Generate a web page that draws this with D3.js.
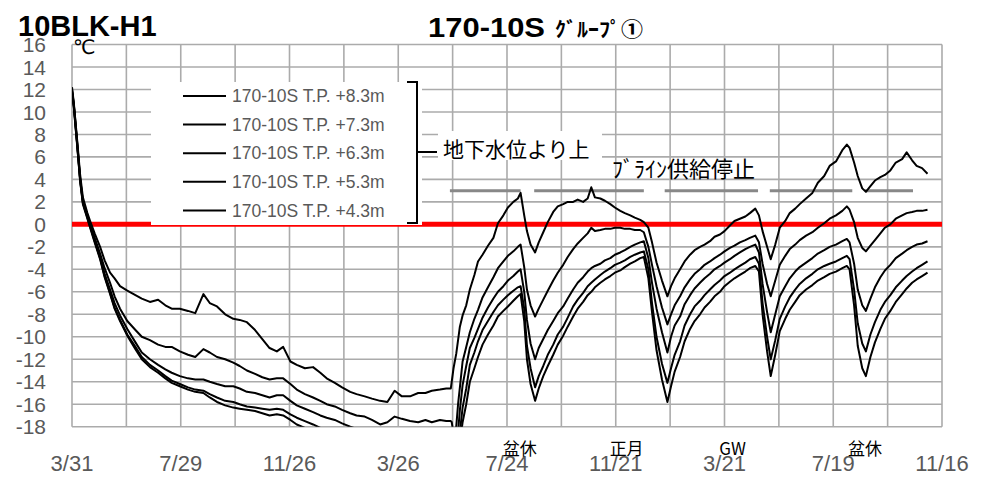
<!DOCTYPE html>
<html><head><meta charset="utf-8">
<script src="https://cdn.jsdelivr.net/npm/d3@7"></script>
<style>body{margin:0;background:#fff}</style>
</head><body><svg id="c" width="985" height="484"></svg>
<script>
// ---- data ----
const xTickDays = [0,120,240,360,480,600,720,840,960];
const xTickLabels = ["3/31","7/29","11/26","3/26","7/24","11/21","3/21","7/19","11/16"];
const yTicks = [-18,-16,-14,-12,-10,-8,-6,-4,-2,0,2,4,6,8,10,12,14,16];
const seriesNames = ["170-10S T.P. +8.3m","170-10S T.P. +7.3m","170-10S T.P. +6.3m","170-10S T.P. +5.3m","170-10S T.P. +4.3m"];
const days = [0,2,6,9,12,17,20,25,31,36,42,47,53,61,70,77,86,95,103,110,119,128,136,145,152,160,169,178,185,193,202,210,218,226,233,241,248,257,266,274,281,290,298,307,314,323,331,340,348,356,364,373,382,390,397,406,413,418,
419,421,424,426,428,431,435,439,444,448,453,459,465,470,476,481,487,492,495,499,502,506,511,515,520,525,531,536,542,547,553,558,564,569,573,577,583,588,594,599,605,610,616,621,627,631,636,640,645,651,657,661,665,671,676,682,687,693,698,704,709,715,720,726,731,737,743,748,754,758,762,767,771,776,781,787,792,798,803,810,817,823,830,836,843,850,855,858,863,867,872,876,881,886,892,897,903,909,916,921,927,932,938,944];
const s83 = [12.2,10.8,7.2,4.4,2.4,1.0,0.3,-0.8,-2.0,-3.2,-4.3,-4.8,-5.5,-5.9,-6.3,-6.6,-6.9,-6.7,-7.2,-7.5,-7.5,-7.7,-7.9,-6.2,-7.0,-7.3,-8.0,-8.4,-8.5,-8.7,-9.4,-10.2,-11.0,-11.3,-10.9,-12.2,-12.5,-12.8,-12.7,-13.2,-13.7,-14.1,-14.5,-14.9,-15.1,-15.3,-15.5,-15.7,-15.8,-14.8,-15.3,-15.3,-15.0,-15.0,-14.8,-14.7,-14.6,-14.6,
-14.0,-12.8,-11.5,-10.3,-9.1,-8.1,-7.2,-5.8,-4.5,-3.3,-2.7,-1.9,-1.2,0.1,0.8,1.5,2.0,2.3,2.8,0.8,-0.6,-1.8,-2.5,-1.6,-0.7,0.2,1.1,1.6,1.8,2.0,2.0,2.2,2.0,2.3,3.3,2.4,2.3,2.1,1.8,1.5,1.2,1.0,0.8,0.6,0.4,0.2,-0.3,-1.6,-3.4,-5.0,-6.4,-5.5,-4.8,-4.0,-3.3,-2.7,-2.3,-2.0,-1.8,-1.5,-1.1,-0.9,-0.6,-0.1,0.3,0.5,0.7,1.0,1.4,0.8,-0.6,-2.0,-3.1,-1.8,-0.3,0.3,1.0,1.4,1.8,2.3,2.8,3.7,4.3,5.2,5.6,6.6,7.1,6.8,5.5,4.3,3.2,2.9,3.4,3.9,4.2,4.4,4.8,5.5,5.8,6.4,5.7,5.2,5.0,4.5];
const s73 = [12.0,10.7,7.0,4.1,2.1,0.8,0.0,-1.2,-2.6,-3.9,-5.2,-6.4,-7.5,-8.6,-9.4,-10.0,-10.3,-10.7,-10.9,-10.9,-11.3,-11.6,-11.8,-11.1,-11.4,-11.8,-12.0,-12.3,-12.6,-13.0,-13.3,-13.6,-13.8,-13.7,-13.7,-14.2,-14.7,-15.1,-15.4,-15.7,-16.0,-16.2,-16.5,-16.8,-17.0,-17.1,-17.4,-17.8,-17.6,-17.1,-17.3,-17.5,-17.6,-17.4,-17.6,-17.4,-17.5,-17.5,
-17.6,-18.6,-18.0,-16.0,-14.5,-12.2,-10.9,-9.6,-8.4,-7.6,-6.5,-5.6,-4.7,-3.9,-3.3,-2.8,-2.4,-2.0,-1.8,-3.8,-5.8,-7.2,-8.2,-7.5,-6.7,-5.9,-5.0,-4.3,-3.6,-2.9,-2.2,-1.7,-1.2,-0.8,-0.3,-0.6,-0.5,-0.4,-0.4,-0.3,-0.3,-0.4,-0.4,-0.5,-0.5,-0.7,-2.0,-3.6,-5.5,-7.4,-8.9,-8.0,-7.2,-6.4,-5.6,-4.9,-4.4,-4.0,-3.6,-3.3,-3.0,-2.7,-2.4,-2.1,-1.9,-1.6,-1.4,-1.2,-1.0,-1.6,-3.5,-5.3,-6.4,-5.0,-3.6,-2.8,-2.2,-1.8,-1.4,-1.0,-0.7,-0.3,0.1,0.5,0.8,1.2,1.6,1.3,0.2,-1.2,-2.1,-2.4,-1.9,-1.4,-0.8,-0.3,0.0,0.5,0.8,1.0,1.1,1.2,1.2,1.3];
const s63 = [11.9,10.6,6.9,4.0,2.0,0.7,-0.1,-1.4,-2.9,-4.4,-5.8,-7.0,-8.1,-9.3,-10.5,-11.4,-12.0,-12.5,-12.9,-13.2,-13.5,-13.7,-13.8,-13.8,-14.0,-14.2,-14.4,-14.4,-14.6,-14.9,-15.0,-15.2,-15.4,-15.2,-15.2,-15.7,-16.1,-16.4,-16.7,-17.0,-17.2,-17.4,-17.7,-18.0,-18.2,-18.4,-18.5,-18.6,-18.7,-18.8,-18.9,-19.0,-19.0,-19.1,-19.1,-19.1,-19.1,-19.2,
-19.2,-19.3,-19.3,-18.5,-16.5,-14.3,-12.6,-11.0,-10.1,-9.3,-8.3,-7.4,-6.6,-6.0,-5.5,-5.0,-4.6,-4.2,-4.0,-6.0,-8.5,-10.6,-12.0,-11.0,-10.2,-9.4,-8.6,-7.9,-7.3,-6.6,-5.8,-5.2,-4.7,-4.2,-3.9,-3.7,-3.5,-3.2,-3.0,-2.7,-2.5,-2.3,-2.0,-1.8,-1.6,-1.5,-3.0,-5.2,-7.5,-9.6,-11.4,-10.0,-9.0,-8.2,-7.1,-6.3,-5.7,-5.2,-4.8,-4.4,-4.0,-3.7,-3.4,-3.1,-2.8,-2.5,-2.2,-2.0,-1.8,-2.5,-5.3,-7.8,-9.6,-8.0,-6.4,-5.5,-4.8,-4.2,-3.8,-3.4,-3.0,-2.6,-2.3,-2.0,-1.8,-1.5,-1.3,-1.6,-3.5,-5.8,-7.2,-7.7,-6.6,-5.6,-4.7,-4.1,-3.6,-3.0,-2.6,-2.3,-2.0,-1.8,-1.7,-1.5];
const s53 = [11.8,10.5,6.8,3.9,1.9,0.6,-0.2,-1.5,-3.0,-4.6,-6.1,-7.4,-8.5,-9.8,-10.9,-11.8,-12.5,-13.0,-13.5,-13.9,-14.2,-14.5,-14.7,-14.8,-15.1,-15.4,-15.7,-15.8,-16.0,-16.2,-16.3,-16.4,-16.5,-16.4,-16.5,-16.9,-17.2,-17.5,-17.8,-18.1,-18.3,-18.5,-18.7,-18.9,-19.1,-19.3,-19.4,-19.5,-19.6,-19.7,-19.8,-19.9,-20.0,-20.0,-20.0,-20.0,-20.0,-20.0,
-20.0,-20.0,-20.0,-19.6,-18.5,-16.3,-14.6,-12.5,-11.4,-10.4,-9.4,-8.6,-7.8,-7.2,-6.7,-6.3,-5.9,-5.6,-5.5,-7.5,-10.8,-12.8,-14.5,-13.5,-12.6,-11.6,-10.7,-9.8,-9.1,-8.3,-7.3,-6.7,-6.1,-5.5,-5.2,-4.9,-4.5,-4.2,-3.9,-3.6,-3.4,-3.2,-2.9,-2.7,-2.5,-2.4,-4.0,-7.0,-10.0,-12.4,-14.1,-12.8,-11.6,-10.4,-9.0,-8.0,-7.3,-6.8,-6.3,-5.8,-5.4,-5.0,-4.6,-4.3,-4.0,-3.7,-3.4,-3.1,-2.9,-3.5,-7.0,-10.0,-12.0,-10.3,-8.4,-7.3,-6.5,-5.8,-5.3,-4.8,-4.4,-4.0,-3.7,-3.5,-3.3,-3.0,-2.8,-3.1,-5.8,-8.8,-10.6,-11.3,-9.8,-8.7,-7.6,-6.9,-6.3,-5.6,-5.0,-4.6,-4.2,-3.9,-3.6,-3.3];
const s43 = [11.7,10.4,6.7,3.8,1.8,0.5,-0.3,-1.6,-3.1,-4.7,-6.2,-7.5,-8.6,-9.9,-11.1,-12.0,-12.7,-13.2,-13.7,-14.1,-14.4,-14.7,-14.9,-15.0,-15.4,-15.8,-16.1,-16.3,-16.4,-16.5,-16.6,-16.8,-17.0,-16.9,-17.0,-17.4,-17.8,-18.1,-18.4,-18.6,-18.8,-19.0,-19.2,-19.4,-19.6,-19.8,-19.9,-20.0,-20.1,-20.2,-20.3,-20.4,-20.4,-20.5,-20.5,-20.5,-20.5,-20.5,
-20.5,-20.5,-20.5,-20.2,-19.5,-17.6,-16.0,-14.0,-12.8,-11.8,-10.7,-9.8,-9.0,-8.2,-7.7,-7.3,-6.8,-6.4,-6.2,-8.6,-12.0,-14.2,-15.7,-14.6,-13.5,-12.6,-11.6,-10.7,-9.9,-9.1,-8.2,-7.5,-6.9,-6.3,-6.0,-5.6,-5.2,-4.9,-4.6,-4.3,-4.1,-3.8,-3.5,-3.3,-3.0,-2.9,-4.8,-7.8,-11.2,-13.8,-15.8,-14.4,-13.1,-11.8,-10.4,-9.3,-8.6,-8.0,-7.4,-6.9,-6.4,-6.0,-5.5,-5.1,-4.8,-4.5,-4.2,-3.9,-3.7,-4.2,-8.0,-11.3,-13.5,-11.6,-9.5,-8.4,-7.6,-6.9,-6.3,-5.8,-5.4,-5.0,-4.7,-4.4,-4.2,-3.9,-3.7,-4.0,-7.2,-10.8,-12.8,-13.5,-11.8,-10.5,-9.3,-8.4,-7.7,-6.9,-6.2,-5.7,-5.2,-4.9,-4.6,-4.3];
const brineStopPeriods = [[417,495],[510,631],[654,757],[770,861],[875,928]];
const brineLevel = 3;
const holidayLabels = ["盆休","正月","GW","盆休"];
const holidayDays = [494,612,729,875];

// ---- chart ----
const svg = d3.select("#c");
const X0 = 72, X1 = 942, Y0 = 44.5, Y1 = 426.7;
const x = d3.scaleLinear().domain([0,960]).range([X0,X1]);
const y = d3.scaleLinear().domain([-18,16]).range([Y1,Y0]);
const latin = "'Liberation Sans', Arial, sans-serif";
const jp = "'Noto Sans CJK JP', sans-serif";

// grid
const grid = svg.append("g").attr("stroke","#ababab").attr("stroke-width",1.6);
grid.selectAll("line.h").data(yTicks).join("line")
  .attr("x1",X0).attr("x2",X1).attr("y1",d=>y(d)).attr("y2",d=>y(d));
grid.selectAll("line.v").data(d3.range(0,961,60)).join("line")
  .attr("y1",Y0).attr("y2",Y1).attr("x1",d=>x(d)).attr("x2",d=>x(d));

// zero line
svg.append("line").attr("x1",X0).attr("x2",X1).attr("y1",y(0)).attr("y2",y(0))
  .attr("stroke","#ff0000").attr("stroke-width",5);

// brine stop lines
svg.append("g").selectAll("line").data(brineStopPeriods).join("line")
  .attr("x1",d=>x(d[0])).attr("x2",d=>x(d[1])).attr("y1",y(brineLevel)).attr("y2",y(brineLevel))
  .attr("stroke","#888").attr("stroke-width",3);

// series
svg.append("clipPath").attr("id","clip").append("rect")
  .attr("x",X0).attr("y",Y0).attr("width",X1-X0).attr("height",Y1-Y0);
const allSeries = [s83,s73,s63,s53,s43];
const line = d3.line().x(d=>x(d[0])).y(d=>y(d[1]));
svg.append("g").attr("clip-path","url(#clip)").selectAll("path").data(allSeries).join("path")
  .attr("d",s=>line(days.map((d,i)=>[d,s[i]])))
  .attr("fill","none").attr("stroke","#000").attr("stroke-width",2).attr("stroke-linejoin","round");

// legend box
svg.append("rect").attr("x",151).attr("y",82).attr("width",271).attr("height",143).attr("fill","#fff");
const lg = svg.append("g").selectAll("g").data(seriesNames).join("g")
  .attr("transform",(d,i)=>`translate(0,${96+i*28.6})`);
lg.append("line").attr("x1",183).attr("x2",226).attr("stroke","#000").attr("stroke-width",2);
lg.append("text").attr("x",232).attr("dy","0.35em").attr("font-family",latin).attr("font-size",17.5)
  .attr("fill","#595959").text(d=>d);

// bracket
svg.append("path").attr("d","M407,82H417V223H407M417,152H437").attr("fill","none")
  .attr("stroke","#000").attr("stroke-width",2);
svg.append("rect").attr("x",438).attr("y",131).attr("width",164).attr("height",29).attr("fill","#fff");
svg.append("text").attr("x",443).attr("y",157).attr("font-family",jp).attr("font-size",21).text("地下水位より上");
svg.append("text").attr("x",612).attr("y",177).attr("font-family",jp).attr("font-size",22).text("ﾌﾞﾗｲﾝ供給停止");

// axes labels
svg.append("g").selectAll("text").data(yTicks).join("text")
  .attr("x",46).attr("y",d=>y(d)).attr("dy","0.36em").attr("text-anchor","end")
  .attr("font-family",latin).attr("font-size",21).attr("fill","#595959").text(d=>d);
svg.append("g").selectAll("text").data(xTickDays).join("text")
  .attr("x",d=>x(d)).attr("y",471).attr("text-anchor","middle")
  .attr("font-family",latin).attr("font-size",22).attr("fill","#595959").text((d,i)=>xTickLabels[i]);
svg.append("g").selectAll("text").data(holidayLabels).join("text")
  .attr("x",(d,i)=>x(holidayDays[i])).attr("y",455).attr("text-anchor","middle")
  .attr("font-family",jp).attr("font-size",17).attr("fill","#000").text(d=>d);

// titles
svg.append("text").attr("x",18).attr("y",36).attr("font-family",latin).attr("font-weight","bold")
  .attr("font-size",29).text("10BLK-H1");
svg.append("text").attr("x",73).attr("y",54).attr("font-family","'DejaVu Sans', sans-serif").attr("font-size",20).text("℃");
svg.append("text").attr("x",428).attr("y",37).attr("font-family",latin).attr("font-weight","bold")
  .attr("font-size",27).attr("textLength",117).attr("lengthAdjust","spacingAndGlyphs").text("170-10S");
svg.append("text").attr("x",555).attr("y",37).attr("font-family",jp).attr("font-weight","bold")
  .attr("font-size",20).attr("textLength",88).attr("lengthAdjust","spacingAndGlyphs").text("ｸﾞﾙｰﾌﾟ①");
</script></body></html>
